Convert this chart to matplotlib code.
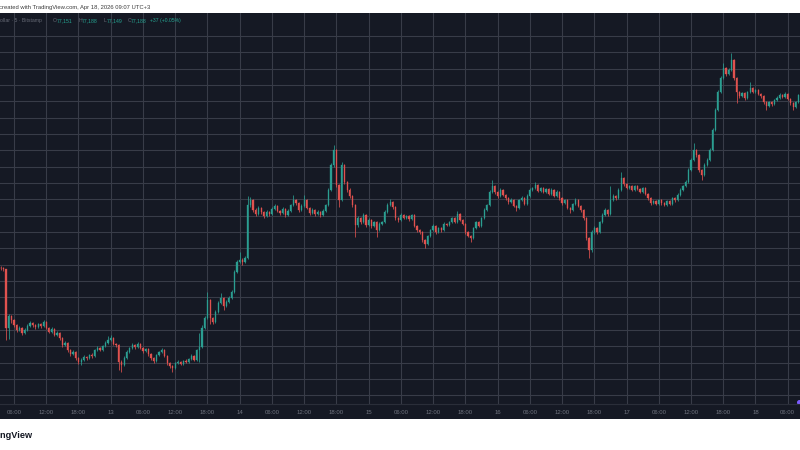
import numpy as np
import pandas as pd
import matplotlib
matplotlib.use("Agg")
import matplotlib.pyplot as plt
import matplotlib.dates as mdates
from matplotlib.ticker import FuncFormatter

plt.rcParams['font.family'] = ['Liberation Sans', 'DejaVu Sans']

# BTC/USD, 30 minute candles
start_time = "2026-04-12 03:30"
first_open = 71900

closes = [
    71890, 71850, 70050, 70420, 70300, 70150, 70000, 70060, 69905, 70000,
    70120, 70210, 70150, 70090, 70180, 70120, 70240, 70060, 69940, 70030,
    69845, 69905, 69750, 69540, 69600, 69385, 69260, 69325, 69140, 69020,
    69080, 69170, 69140, 69230, 69200, 69385, 69450, 69385, 69510, 69600,
    69690, 69750, 69570, 69540, 69020, 68925, 69140, 69325, 69445, 69540,
    69480, 69570, 69445, 69355, 69415, 69260, 69140, 69050, 69230, 69325,
    69385, 69200, 68990, 68895, 68835, 68990, 69020, 68960, 69050, 69020,
    69110, 69200, 69080, 69385, 69480, 70060, 70365, 70916, 70365, 70240,
    70550, 70825, 70977, 70735, 70855, 70977, 71160, 71773, 72080, 72140,
    72080, 72202, 73825, 73978, 73672, 73550, 73733, 73610, 73488, 73610,
    73550, 73703, 73794, 73641, 73580, 73703, 73519, 73641, 73825, 73978,
    73886, 73672, 73794, 73978, 73733, 73580, 73672, 73550, 73610, 73519,
    73641, 73825, 74284, 75050, 75509, 74437, 73978, 75050, 74529, 74284,
    74100, 73825, 73213, 73427, 73305, 73519, 73213, 73366, 73182, 73305,
    73059, 73244, 73305, 73610, 73825, 73917, 73763, 73427, 73366, 73519,
    73427, 73488, 73396, 73519, 73182, 73059, 72998, 72753, 72631, 72876,
    73059, 73182, 72998, 73120, 73059, 73244, 73213, 73305, 73427, 73305,
    73550, 73366, 73244, 72998, 72876, 72815, 73120, 73305, 73182, 73427,
    73672, 73825, 74223, 74407, 74223, 74100, 74284, 74131, 74039, 73917,
    73978, 73794, 73733, 73978, 74039, 73856, 74100, 74284, 74345, 74437,
    74254, 74345, 74223, 74315, 74162, 74284, 74100, 74223, 74039, 73886,
    73978, 73733, 73672, 73856, 73978, 73794, 73672, 73427, 72815, 72447,
    72998, 73120, 72998, 73305, 73519, 73672, 73550, 73978, 74100, 74039,
    74284, 74651, 74468, 74345, 74407, 74284, 74407, 74315, 74223, 74345,
    74162, 74039, 73886, 73947, 73856, 73978, 73886, 73825, 73947, 73856,
    74039, 73978, 74131, 74284, 74407, 74529, 74897, 75203, 75509, 75356,
    74897, 74743, 75050, 75203, 75509, 76121, 76734, 77285, 77714, 78020,
    77836, 77959, 78265, 77714, 77285, 77162, 77254, 77101, 77285, 77407,
    77285, 77346, 77224, 77162, 76979, 76856, 76979, 76918, 77040, 77101,
    77193, 77132, 77224, 77071, 76948, 76826, 76979, 77188,
]

highs = [
    71960, 71940, 71880, 70480, 70450, 70340, 70190, 70130, 70090, 70050,
    70170, 70260, 70240, 70180, 70220, 70210, 70290, 70260, 70090, 70080,
    70060, 69960, 69930, 69780, 69660, 69630, 69420, 69380, 69350, 69170,
    69130, 69220, 69210, 69270, 69280, 69420, 69500, 69480, 69550, 69650,
    69815, 69830, 69770, 69610, 69570, 69080, 69190, 69370, 69490, 69590,
    69580, 69620, 69600, 69480, 69460, 69440, 69290, 69170, 69270, 69360,
    69450, 69410, 69230, 69020, 68920, 69030, 69070, 69050, 69090, 69100,
    69150, 69260, 69230, 69420, 69900, 70150, 70420, 71160, 70950, 70400,
    70600, 70880, 71130, 71010, 70910, 71030, 71220, 71830, 72150, 72386,
    72200, 72260, 74100, 74060, 74010, 73720, 73790, 73770, 73650, 73660,
    73650, 73750, 73850, 73820, 73680, 73750, 73730, 73690, 73870, 74132,
    74020, 73910, 73850, 74132, 74000, 73760, 73720, 73700, 73660, 73640,
    73690, 73870, 74350, 75120, 75662, 75540, 74480, 75142, 75080, 74570,
    74330, 74140, 73860, 73480, 73460, 73570, 73550, 73420, 73400, 73350,
    73340, 73290, 73350, 73660, 73880, 74010, 73950, 73790, 73460, 73570,
    73560, 73530, 73520, 73560, 73540, 73210, 73090, 73020, 72780, 72920,
    73100, 73230, 73210, 73160, 73150, 73290, 73280, 73350, 73470, 73450,
    73640, 73580, 73390, 73270, 73020, 72900, 73160, 73350, 73330, 73470,
    73720, 73870, 74280, 74590, 74440, 74260, 74330, 74310, 74160, 74060,
    74030, 74000, 73820, 74020, 74090, 74070, 74150, 74330, 74390, 74530,
    74470, 74390, 74370, 74360, 74340, 74330, 74310, 74270, 74250, 74070,
    74020, 74000, 73760, 73900, 74030, 74010, 73820, 73700, 73450, 72850,
    73050, 73170, 73150, 73350, 73570, 73720, 73700, 74400, 74160, 74140,
    74330, 74836, 74690, 74500, 74450, 74440, 74450, 74440, 74350, 74390,
    74370, 74190, 74070, 73990, 73980, 74020, 74010, 73910, 73990, 73980,
    74080, 74070, 74180, 74330, 74450, 74580, 74950, 75260, 75720, 75550,
    75390, 74930, 75100, 75250, 75560, 76180, 76800, 77350, 77780, 78173,
    78060, 78010, 78479, 78300, 77750, 77320, 77300, 77290, 77330, 77600,
    77440, 77390, 77380, 77260, 77190, 77010, 77020, 77010, 77080, 77150,
    77240, 77230, 77270, 77250, 77100, 76980, 77020, 77230,
]

lows = [
    71830, 71800, 69700, 69720, 70200, 70080, 69940, 69960, 69850, 69870,
    69970, 70090, 70100, 70040, 70060, 70070, 70100, 70020, 69890, 69900,
    69800, 69800, 69700, 69480, 69500, 69330, 69200, 69230, 69090, 68960,
    68925, 69040, 69090, 69110, 69150, 69170, 69350, 69340, 69360, 69480,
    69570, 69650, 69530, 69490, 68775, 68710, 68880, 69100, 69290, 69410,
    69430, 69440, 69400, 69300, 69310, 69210, 69080, 68990, 69020, 69200,
    69290, 69160, 68940, 68840, 68710, 68800, 68950, 68910, 68920, 68980,
    68990, 69080, 69040, 69050, 69020, 69450, 70020, 70330, 70180, 70180,
    70210, 70520, 70790, 70610, 70700, 70820, 70940, 71120, 71740, 72040,
    72000, 72040, 72170, 73760, 73610, 73490, 73510, 73560, 73440, 73450,
    73500, 73520, 73670, 73600, 73530, 73550, 73470, 73490, 73610, 73790,
    73840, 73620, 73640, 73760, 73690, 73530, 73550, 73500, 73510, 73470,
    73490, 73610, 73800, 74250, 75000, 74380, 73760, 73950, 74470, 74220,
    74040, 73760, 72845, 73150, 73250, 73270, 73160, 73180, 73130, 73150,
    72845, 73020, 73200, 73270, 73580, 73790, 73710, 73380, 73310, 73330,
    73390, 73400, 73350, 73370, 73140, 73010, 72950, 72700, 72508, 72600,
    72840, 73030, 72950, 72970, 73010, 73030, 73170, 73180, 73280, 73260,
    73280, 73320, 73200, 72950, 72830, 72690, 72790, 73090, 73140, 73150,
    73400, 73640, 73800, 74190, 74170, 74050, 74070, 74090, 73990, 73870,
    73880, 73750, 73640, 73700, 73950, 73810, 73830, 74070, 74250, 74310,
    74210, 74220, 74180, 74190, 74120, 74130, 74060, 74070, 73990, 73840,
    73850, 73690, 73580, 73640, 73820, 73750, 73620, 73380, 72760, 72202,
    72400, 72950, 72940, 72970, 73270, 73490, 73500, 73520, 73940, 73990,
    74010, 74250, 74420, 74300, 74310, 74240, 74250, 74270, 74180, 74190,
    74120, 73990, 73840, 73850, 73810, 73830, 73840, 73780, 73800, 73810,
    73830, 73930, 73950, 74100, 74250, 74380, 74500, 74860, 75170, 75300,
    74840, 74590, 74710, 75010, 75170, 75480, 76090, 76700, 77250, 77680,
    77780, 77800, 77920, 77660, 76948, 77110, 77120, 77050, 77070, 77250,
    77240, 77250, 77180, 77110, 76930, 76740, 76820, 76870, 76890, 77010,
    77070, 77090, 77100, 77030, 76900, 76740, 76800, 76950,
]

view_start = "2026-04-12 03:24"
view_end = "2026-04-18 08:17"
price_range = (67731, 79704)
price_grid = np.arange(68000, 79001, 500)

header_label = "ollar \u00b7 5 \u00b7 Bitstamp"
last_ohlc = ["77,151", "77,188", "77,149", "77,188"]
last_change = "+37 (+0.05%)"
caption = "created with TradingView.com, Apr 18, 2026 09:07 UTC+3"
logo = "TradingView"

BG = '#151924'
GRID = '#383c48'
UP = '#2b9e91'
DOWN = '#e0524f'

times = pd.date_range(start_time, periods=len(closes), freq='30min')
x = mdates.date2num(times.to_pydatetime())
opens = [first_open] + closes[:-1]
colors = [UP if c >= o else DOWN for o, c in zip(opens, closes)]

fig = plt.figure(figsize=(8, 4.5), dpi=100, facecolor='white')

# price pane
ax = fig.add_axes([0, 0.10222, 1, 0.86889], facecolor=BG)
ax.vlines(x, lows, highs, colors=colors, linewidth=0.55, zorder=2)
ax.bar(x, np.array(closes) - np.array(opens), bottom=opens, width=0.22 / 24,
       color=colors, edgecolor=colors, linewidth=0.25, zorder=3)
ax.set_xlim(mdates.date2num(pd.Timestamp(view_start)),
            mdates.date2num(pd.Timestamp(view_end)))
ax.set_ylim(*price_range)
ax.set_yticks(price_grid)
ax.xaxis.set_major_locator(mdates.HourLocator(byhour=[0, 6, 12, 18]))
ax.grid(True, color=GRID, linewidth=0.8)
ax.set_axisbelow(True)
ax.tick_params(length=0, labelbottom=False, labelleft=False)
for s in ax.spines.values():
    s.set_visible(False)
ax.plot([0.999], [0.006], 'o', ms=2.6, color='#7b5cff',
        transform=ax.transAxes, clip_on=False)

# time scale strip
axt = fig.add_axes([0, 0.06778, 1, 0.03444], facecolor=BG, sharex=ax)


def time_label(v, pos):
    d = mdates.num2date(v)
    return str(d.day) if d.hour == 0 else d.strftime('%H:%M')


axt.xaxis.set_major_formatter(FuncFormatter(time_label))
axt.tick_params(axis='x', length=0, pad=-6.5, labelsize=4.3,
                labelcolor='#70747f')
axt.set_yticks([])
for name, s in axt.spines.items():
    s.set_visible(name == 'top')
axt.spines['top'].set_color('#2a2e39')
axt.spines['top'].set_linewidth(0.8)

# header line inside the pane
hy = 1 - 20.5 / 450
gray = '#666a76'
teal = '#26a593'
fig.text(0, hy, header_label, fontsize=3.7, color=gray, va='center')
pieces = [(52.5, "O", gray), (56.5, last_ohlc[0], teal),
          (78.5, "H", gray), (82, last_ohlc[1], teal),
          (103.5, "L", gray), (107, last_ohlc[2], teal),
          (127.5, "C", gray), (131, last_ohlc[3], teal),
          (149.5, last_change, teal)]
for px, txt, col in pieces:
    fig.text(px / 800, hy, txt, fontsize=3.7, color=col, va='center')

fig.text(150.5 / 800, 1 - 7 / 450, caption, ha='right', va='center',
         fontsize=4.2, color='#3c3c3c')
fig.text(33 / 800, 1 - 435 / 450, logo, ha='right', va='center',
         fontsize=6.6, fontweight='bold', color='#131722')

fig.savefig('out.png', dpi=100, facecolor='white')
